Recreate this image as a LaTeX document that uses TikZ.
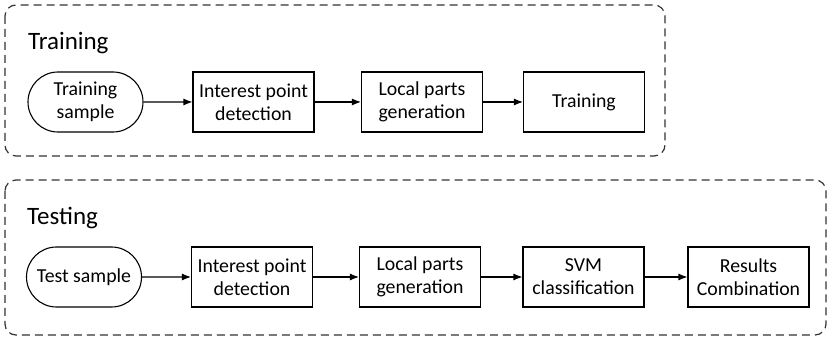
\documentclass[tikz,border=0pt]{standalone}
\usepackage{fontspec}
\setmainfont{Carlito}
\usetikzlibrary{arrows.meta,shapes.misc}
\begin{document}
\begin{tikzpicture}[x=1pt,y=-1pt,
  group/.style={draw=black!80,line width=1.2pt,dash pattern=on 8pt off 5pt,rounded corners=11pt},
  title/.style={anchor=base west,font=\fontsize{25}{28}\selectfont,inner sep=0pt},
  stepbox/.style={draw,line width=1.1pt,minimum width=121pt,minimum height=60pt,align=center,
    font=\fontsize{19.8}{23}\selectfont,inner sep=1pt},
  startbox/.style={stepbox,rounded rectangle,minimum width=117pt},
  flow/.style={-{Latex[length=9pt,width=7pt]},line width=1.1pt}]
\useasboundingbox (0,0) rectangle (828,339);
% training stage
\draw[group] (5,5) rectangle (665,156);
\node[title] (ttrain) at (28,50) {Training};
\node[startbox] (a1) at (85.5,102) {Training\\sample};
\node[stepbox] (a2) at (253.5,102) {Interest point\\detection};
\node[stepbox] (a3) at (422,102) {Local parts\\generation};
\node[stepbox] (a4) at (584,102) {Training};
\draw[flow] (a1) -- (a2);
\draw[flow] (a2) -- (a3);
\draw[flow] (a3) -- (a4);
% testing stage
\draw[group] (5,180) rectangle (826,335);
\node[title] (ttest) at (27,225) {Testing};
\node[startbox] (b1) at (84,277) {Test sample};
\node[stepbox] (b2) at (252,277) {Interest point\\detection};
\node[stepbox] (b3) at (420,277) {Local parts\\generation};
\node[stepbox] (b4) at (583.5,277) {SVM\\classification};
\node[stepbox] (b5) at (748.5,277) {Results\\Combination};
\draw[flow] (b1) -- (b2);
\draw[flow] (b2) -- (b3);
\draw[flow] (b3) -- (b4);
\draw[flow] (b4) -- (b5);
\end{tikzpicture}
\end{document}
